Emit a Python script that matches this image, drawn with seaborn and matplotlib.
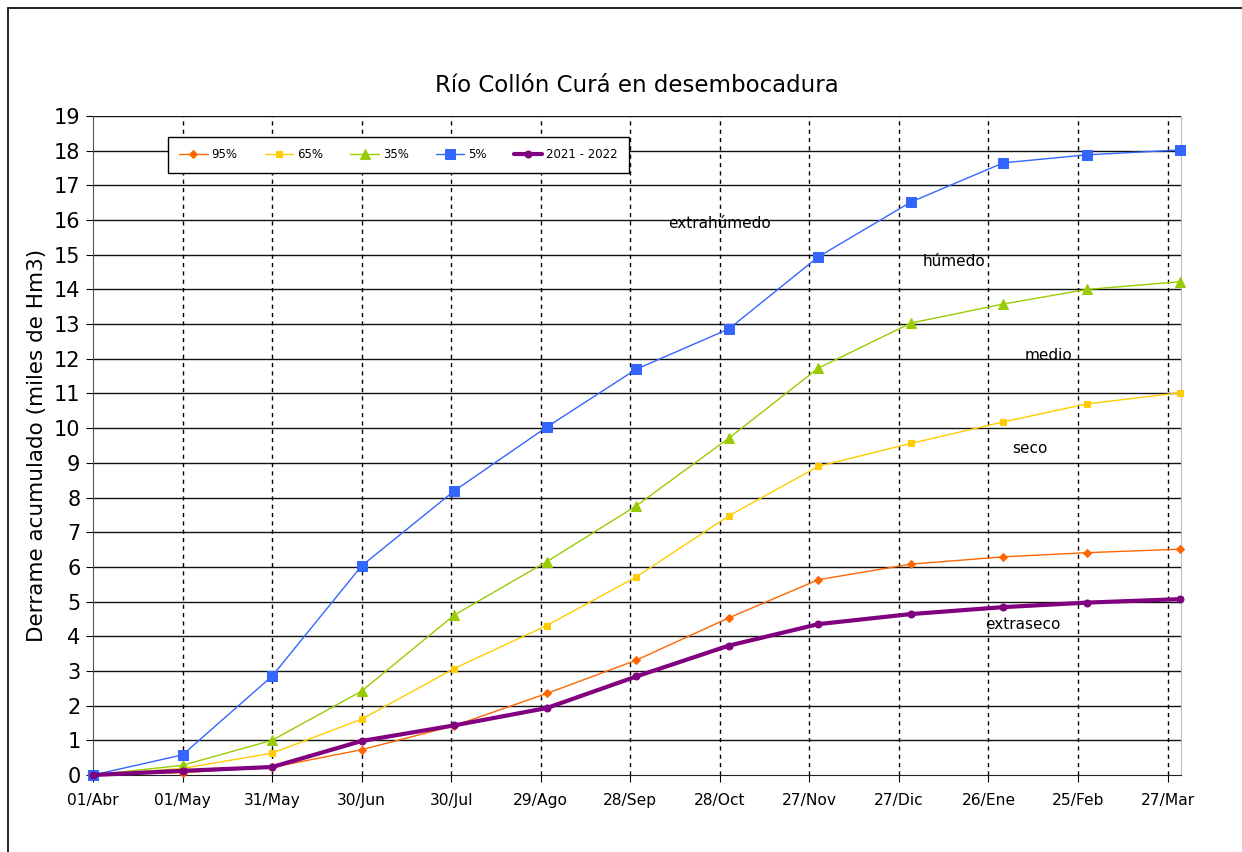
import matplotlib
matplotlib.use("Agg")
import matplotlib.pyplot as plt
import matplotlib.lines as mlines
import seaborn as sns

# days since 01/Abr for each monthly point
days = [0, 30, 60, 90, 121, 152, 182, 213, 243, 274, 305, 333, 364]

p95 = [0, 0.07, 0.22, 0.73, 1.42, 2.35, 3.31, 4.53, 5.63, 6.08, 6.29, 6.41, 6.51]
p65 = [0, 0.19, 0.63, 1.61, 3.07, 4.31, 5.71, 7.47, 8.90, 9.56, 10.18, 10.70, 11.02]
p35 = [0, 0.28, 1.00, 2.42, 4.61, 6.15, 7.76, 9.71, 11.73, 13.03, 13.58, 14.00, 14.22]
p05 = [0, 0.58, 2.85, 6.03, 8.19, 10.03, 11.70, 12.86, 14.94, 16.52, 17.65, 17.88, 18.02]
y2021 = [0, 0.12, 0.23, 0.98, 1.43, 1.93, 2.84, 3.73, 4.35, 4.64, 4.84, 4.97, 5.07]

tick_days = [0, 30, 60, 90, 120, 150, 180, 210, 240, 270, 300, 330, 360]
tick_labels = ["01/Abr", "01/May", "31/May", "30/Jun", "30/Jul", "29/Ago", "28/Sep",
               "28/Oct", "27/Nov", "27/Dic", "26/Ene", "25/Feb", "27/Mar"]

sns.set_style("ticks")
plt.rcParams['font.family'] = ['DejaVu Sans']
plt.rcParams['text.color'] = 'black'
plt.rcParams['axes.labelcolor'] = 'black'
plt.rcParams['xtick.color'] = 'black'
plt.rcParams['ytick.color'] = 'black'

fig = plt.figure(figsize=(12.42, 8.52), dpi=100)
ax = fig.add_axes([93 / 1242, 1 - 775 / 852, (1181 - 93) / 1242, (775 - 116) / 852])

# outer frame (only top/left visible in the original)
fig.add_artist(mlines.Line2D([8 / 1242, 8 / 1242], [0, 1 - 8 / 852], transform=fig.transFigure,
                             color="black", lw=1.2))
fig.add_artist(mlines.Line2D([8 / 1242, 1], [1 - 8 / 852, 1 - 8 / 852], transform=fig.transFigure,
                             color="black", lw=1.2))

# grid
for yv in range(1, 20):
    ax.axhline(yv, color="#111111", lw=1.0, zorder=1)
for xv in tick_days[1:]:
    ax.axvline(xv, color="black", lw=1.0, ls=(0, (3, 3)), zorder=1)

series = [
    ("95%", p95, "#FF6600", "D", 4.0, 1.0),
    ("65%", p65, "#FFCC00", "s", 5.0, 1.0),
    ("35%", p35, "#99CC00", "^", 7.0, 1.0),
    ("5%", p05, "#3366FF", "s", 6.5, 1.0),
    ("2021 - 2022", y2021, "#800080", "o", 5.0, 3.0),
]
for name, vals, col, mk, ms, lw in series:
    sns.lineplot(x=days, y=vals, ax=ax, color=col, marker=mk, markersize=ms,
                 markeredgecolor=col, linewidth=lw, label=name, zorder=3, clip_on=False)

ax.set_xlim(0, 364.5)
ax.set_ylim(0, 19)
ax.set_xticks(tick_days)
ax.set_xticklabels(tick_labels, fontsize=11.2)
ax.set_yticks(range(0, 20))
ax.tick_params(axis="y", labelsize=15, length=5, pad=4)
ax.tick_params(axis="x", length=5, pad=8)
ax.spines["left"].set_color("#555555")
ax.spines["bottom"].set_color("#222222")
ax.spines["right"].set_color("#BBBBBB")
ax.spines["top"].set_visible(False)

ax.set_ylabel("Derrame acumulado (miles de Hm3)", fontsize=15.5, labelpad=5)
ax.set_xlabel("")
ax.set_title("Río Collón Curá en desembocadura", fontsize=16.5, pad=17)

# zone labels
for txt, xd, yv in [("extrahúmedo", 210, 15.9), ("húmedo", 288.5, 14.8), ("medio", 320, 12.1),
                    ("seco", 314, 9.4), ("extraseco", 311.5, 4.35)]:
    ax.text(xd, yv, txt, fontsize=11, ha="center", va="center", zorder=2)

leg = ax.legend(loc="upper left", bbox_to_anchor=(0.0689, 0.968), borderaxespad=0, ncol=5,
                fontsize=8.5, frameon=True, fancybox=False, edgecolor="black", framealpha=1,
                handlelength=2.4, handletextpad=0.35, columnspacing=2.3, borderpad=0.95)
leg.get_frame().set_linewidth(1.0)

fig.savefig("out.png", dpi=100)
